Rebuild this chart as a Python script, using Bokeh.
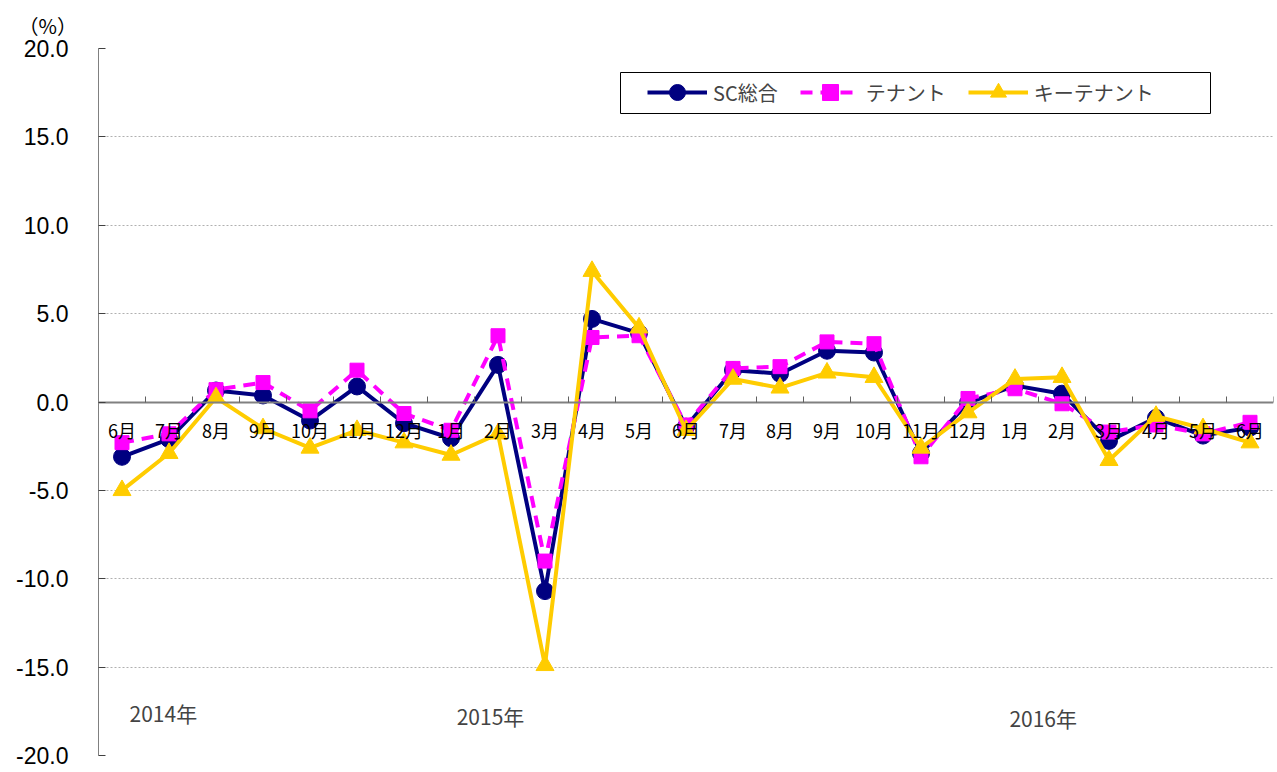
from bokeh.plotting import figure
from bokeh.models import (Range1d, LinearAxis, FixedTicker, Legend, LegendItem, Label, Title,
                          ColumnDataSource, CustomJSTickFormatter, NumeralTickFormatter, BoxAnnotation)
from bokeh.embed import file_html
from bokeh.resources import INLINE

months = ["6月", "7月", "8月", "9月", "10月", "11月", "12月", "1月", "2月", "3月", "4月", "5月",
          "6月", "7月", "8月", "9月", "10月", "11月", "12月", "1月", "2月", "3月", "4月", "5月", "6月"]
sc_total = [-3.1, -2.1, 0.65, 0.37, -1.05, 0.88, -1.2, -2.05, 2.1, -10.7, 4.7, 3.9,
            -1.4, 1.8, 1.6, 2.9, 2.8, -2.9, -0.05, 0.93, 0.47, -2.2, -0.9, -1.9, -1.45]
tenant = [-2.3, -1.8, 0.7, 1.1, -0.5, 1.8, -0.65, -1.6, 3.75, -9.0, 3.65, 3.75,
          -1.3, 1.9, 2.0, 3.4, 3.3, -3.1, 0.2, 0.75, -0.1, -1.7, -1.3, -1.8, -1.15]
key_tenant = [-5.0, -2.9, 0.25, -1.5, -2.6, -1.6, -2.3, -3.0, -1.8, -14.9, 7.4, 4.2,
              -1.6, 1.3, 0.8, 1.65, 1.4, -2.6, -0.6, 1.3, 1.4, -3.3, -0.8, -1.5, -2.3]
y_ticks = [-20, -15, -10, -5, 0, 5, 10, 15, 20]
series_names = ["SC総合", "テナント", "キーテナント"]
years = ["2014年", "2015年", "2016年"]
year_pos = [(1.38, -17.6), (8.34, -17.75), (20.1, -17.9)]

x = [i + 0.5 for i in range(len(months))]
src = ColumnDataSource(dict(x=x, sc=sc_total, tn=tenant, kt=key_tenant))

p = figure(width=1277, height=772, output_backend="svg", toolbar_location=None,
           x_range=Range1d(0, len(months)), y_range=Range1d(-20, 20),
           x_axis_location=None, min_border_left=98, min_border_top=48,
           min_border_right=4, min_border_bottom=17)
p.outline_line_color = None
p.background_fill_color = "white"
p.xgrid.visible = False

# unit label
p.add_layout(Title(text="（%）", align="left", offset=-80, standoff=17,
                   text_font="Noto Sans CJK JP", text_font_size="20px",
                   text_font_style="normal", text_color="black"), "above")

# y axis
ya = p.yaxis[0]
ya.ticker = FixedTicker(ticks=y_ticks)
ya.formatter = NumeralTickFormatter(format="0.0")
ya.major_label_text_font = "Liberation Sans"
ya.major_label_text_font_size = "23px"
ya.major_label_text_color = "black"
ya.axis_line_color = "#808080"
ya.major_tick_line_color = "#404040"
ya.major_tick_in = 7
ya.major_tick_out = 0
ya.minor_tick_line_color = None
ya.major_label_standoff = 30
p.ygrid.grid_line_color = "#b0b0b0"
p.ygrid.grid_line_dash = "2 2"
p.ygrid.grid_line_width = 1

# x axis at zero: ticks at category boundaries
tick_ax = LinearAxis(ticker=FixedTicker(ticks=list(range(len(months) + 1))),
                     fixed_location=0, major_label_text_color=None,
                     major_label_text_font_size="1px",
                     axis_line_color="#808080", axis_line_width=2,
                     major_tick_line_color="#606060", major_tick_in=6, major_tick_out=0,
                     minor_tick_line_color=None)
p.add_layout(tick_ax, "below")
lab_ax = LinearAxis(ticker=FixedTicker(ticks=x), fixed_location=0,
                    formatter=CustomJSTickFormatter(args=dict(labels=months),
                                                    code="return labels[Math.floor(tick)] || ''"),
                    axis_line_color=None, major_tick_line_color=None, minor_tick_line_color=None,
                    major_tick_in=0, major_tick_out=0, major_label_standoff=15,
                    major_label_text_font="Noto Sans CJK JP", major_label_text_font_size="18px",
                    major_label_text_color="black")
p.add_layout(lab_ax, "below")

# series
l1 = p.line("x", "sc", source=src, line_color="#000080", line_width=4)
m1 = p.scatter("x", "sc", source=src, marker="circle", size=17, fill_color="#000080", line_color="#000080")
l2 = p.line("x", "tn", source=src, line_color="#FF00FF", line_width=4, line_dash="12 8")
m2 = p.scatter("x", "tn", source=src, marker="square", size=14, fill_color="#FF00FF", line_color="#FF00FF")
l3 = p.line("x", "kt", source=src, line_color="#FFCC00", line_width=4)
m3 = p.scatter("x", "kt", source=src, marker="triangle", size=18, fill_color="#FFCC00", line_color="#FFCC00")

# legend frame
p.add_layout(BoxAnnotation(left=620, right=1210, top=72, bottom=113,
                           left_units="canvas", right_units="canvas",
                           top_units="canvas", bottom_units="canvas",
                           fill_color="white", fill_alpha=1,
                           line_color="black", line_width=1, line_alpha=1))

legend = Legend(items=[LegendItem(label=series_names[0], renderers=[l1, m1]),
                       LegendItem(label=series_names[1], renderers=[l2, m2]),
                       LegendItem(label=series_names[2], renderers=[l3, m3])],
                orientation="horizontal", location=(549, 643),
                border_line_color=None, background_fill_alpha=0,
                label_text_font="Noto Sans CJK JP", label_text_font_size="20px",
                glyph_width=60, glyph_height=40, spacing=22, padding=0, margin=0,
                label_standoff=6)
p.add_layout(legend)

for t, (xx, yy) in zip(years, year_pos):
    p.add_layout(Label(x=xx, y=yy, text=t, text_font="Noto Sans CJK JP",
                       text_font_size="21px", text_align="center", text_baseline="middle"))

open("out.html", "w").write(file_html(p, INLINE))
